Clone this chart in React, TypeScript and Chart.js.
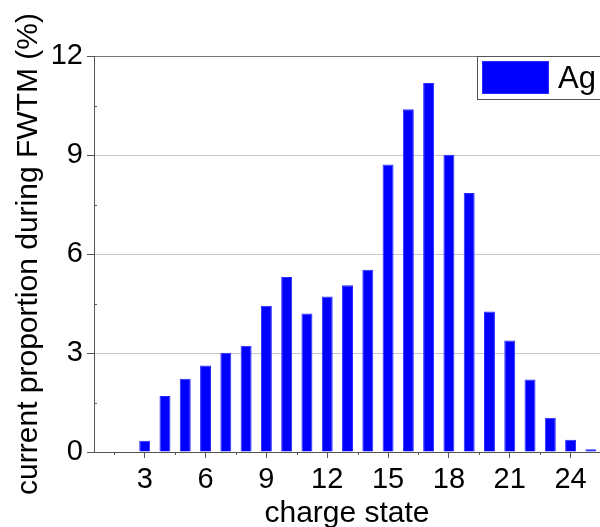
import { useEffect, useRef } from 'react';
import { Chart, registerables } from 'chart.js';

Chart.register(...registerables);

const CHARGE_STATES = [3, 4, 5, 6, 7, 8, 9, 10, 11, 12, 13, 14, 15, 16, 17, 18, 19, 20, 21, 22, 23, 24, 25];
const CURRENT_PROPORTION = [0.34, 1.7, 2.22, 2.62, 3.01, 3.22, 4.43, 5.3, 4.2, 4.71, 5.05, 5.52, 8.71, 10.39, 11.18, 9.01, 7.85, 4.26, 3.38, 2.2, 1.04, 0.37, 0.08];
const SERIES_LABEL = 'Ag';
const X_MAJOR_TICKS = [3, 6, 9, 12, 15, 18, 21, 24];
const X_MINOR_TICKS = [1.5, 4.5, 7.5, 10.5, 13.5, 16.5, 19.5, 22.5];
const Y_MAJOR_TICKS = [0, 3, 6, 9, 12];
const Y_MINOR_TICKS = [1.5, 4.5, 7.5, 10.5];
const X_TITLE = 'charge state';
const Y_TITLE = 'current proportion during FWTM (%)';

const FONT = '"Liberation Sans", Arial, sans-serif';

const minorTickPlugin = {
  id: 'minorTicks',
  afterDatasetsDraw(chart: any) {
    const { ctx, scales } = chart;
    const xs = scales.x;
    const ys = scales.y;
    ctx.save();
    ctx.strokeStyle = '#555555';
    ctx.lineWidth = 1;
    ctx.beginPath();
    for (const v of X_MINOR_TICKS) {
      const px = Math.round(xs.getPixelForValue(v)) + 0.5;
      ctx.moveTo(px, ys.bottom);
      ctx.lineTo(px, ys.bottom + 3);
    }
    for (const v of Y_MINOR_TICKS) {
      const py = Math.round(ys.getPixelForValue(v)) + 0.5;
      ctx.moveTo(xs.left, py);
      ctx.lineTo(xs.left + 3, py);
    }
    ctx.stroke();
    ctx.restore();
  },
};

const legendPlugin = {
  id: 'insideLegend',
  afterDraw(chart: any) {
    const { ctx, chartArea } = chart;
    const ds = chart.data.datasets[0];
    const x = chartArea.right - 123;
    const y = chartArea.top;
    ctx.save();
    ctx.fillStyle = '#ffffff';
    ctx.fillRect(x, y, 140, 43);
    ctx.strokeStyle = '#555555';
    ctx.lineWidth = 1;
    ctx.strokeRect(x + 0.5, y + 0.5, 140, 43);
    ctx.fillStyle = ds.backgroundColor;
    ctx.fillRect(x + 5, y + 5, 67, 33);
    ctx.strokeStyle = ds.borderColor;
    ctx.strokeRect(x + 5.5, y + 5.5, 66, 32);
    ctx.fillStyle = '#000000';
    ctx.font = `31px ${FONT}`;
    ctx.textBaseline = 'middle';
    ctx.textAlign = 'left';
    ctx.fillText(ds.label, x + 81, y + 23);
    ctx.restore();
  },
};

export default function App() {
  const canvasRef = useRef<HTMLCanvasElement | null>(null);

  useEffect(() => {
    if (!canvasRef.current) return;
    const chart = new Chart(canvasRef.current, {
      type: 'bar',
      data: {
        datasets: [
          {
            label: SERIES_LABEL,
            data: CHARGE_STATES.map((c, i) => ({ x: c, y: CURRENT_PROPORTION[i] })),
            backgroundColor: '#0000ff',
            borderColor: '#2a2aff',
            borderWidth: 1,
            barPercentage: 0.54,
            categoryPercentage: 1,
          },
        ],
      },
      options: {
        animation: false,
        responsive: true,
        maintainAspectRatio: false,
        layout: { padding: { top: 56, right: 0, left: 0, bottom: 0 } },
        plugins: {
          legend: { display: false },
          tooltip: { enabled: false },
        },
        scales: {
          x: {
            type: 'linear',
            min: 0.5,
            max: 25.45,
            offset: false,
            afterBuildTicks: (scale: any) => {
              scale.ticks = X_MAJOR_TICKS.map((v) => ({ value: v }));
            },
            afterFit: (scale: any) => {
              scale.height = 75;
            },
            ticks: {
              color: '#000000',
              font: { family: FONT, size: 29 },
              padding: 5,
              maxRotation: 0,
              autoSkip: false,
            },
            grid: {
              offset: false,
              drawOnChartArea: false,
              drawTicks: true,
              tickLength: 6,
              tickColor: '#555555',
            },
            border: { color: '#555555', width: 1 },
            title: {
              display: true,
              text: X_TITLE,
              color: '#000000',
              font: { family: FONT, size: 30 },
              padding: { top: 0, bottom: -5 },
            },
          },
          y: {
            type: 'linear',
            min: 0,
            max: 12,
            afterBuildTicks: (scale: any) => {
              scale.ticks = Y_MAJOR_TICKS.map((v) => ({ value: v }));
            },
            afterFit: (scale: any) => {
              scale.width = 94;
            },
            ticks: {
              color: '#000000',
              font: { family: FONT, size: 29 },
              padding: 4,
            },
            grid: {
              color: (c: any) => (c.tick && c.tick.value === 12 ? '#777777' : '#c8c8c8'),
              tickColor: '#555555',
              tickLength: 7,
              lineWidth: 1,
            },
            border: { color: '#555555', width: 1 },
            title: {
              display: true,
              text: Y_TITLE,
              color: '#000000',
              font: { family: FONT, size: 30 },
              padding: { top: 11, bottom: 0 },
            },
          },
        },
      },
      plugins: [minorTickPlugin, legendPlugin],
    } as any);
    return () => chart.destroy();
  }, []);

  return (
    <div style={{ position: 'fixed', left: 0, top: 0, width: 600, height: 527, background: '#ffffff' }}>
      <canvas ref={canvasRef} />
    </div>
  );
}
